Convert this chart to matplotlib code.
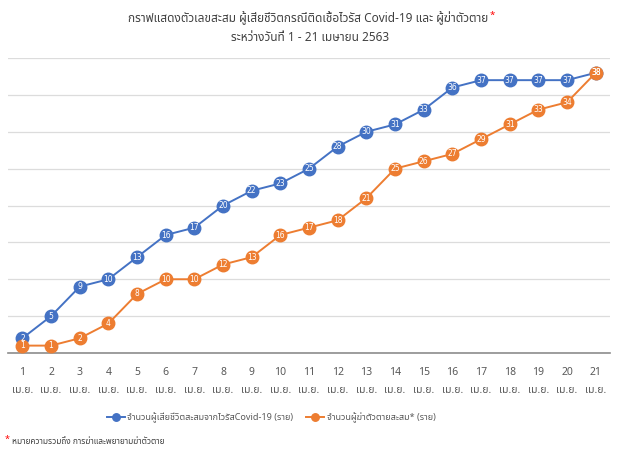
import matplotlib
matplotlib.use("Agg")
import matplotlib.pyplot as plt

plt.rcParams['font.family'] = ['Noto Sans Thai', 'DejaVu Sans']

# data (1 - 21 April 2563)
days = [str(d) for d in range(1, 22)]
month_label = "เม.ย."
covid_deaths = [2, 5, 9, 10, 13, 16, 17, 20, 22, 23, 25, 28, 30, 31, 33, 36, 37, 37, 37, 37, 38]
suicides = [1, 1, 2, 4, 8, 10, 10, 12, 13, 16, 17, 18, 21, 25, 26, 27, 29, 31, 33, 34, 38]

covid_label = "จำนวนผู้เสียชีวิตสะสมจากไวรัสCovid-19 (ราย)"
suicide_label = "จำนวนผู้ฆ่าตัวตายสะสม* (ราย)"
title_1 = "กราฟแสดงตัวเลขสะสม ผู้เสียชีวิตกรณีติดเชื้อไวรัส Covid-19 และ ผู้ฆ่าตัวตาย"
title_2 = "ระหว่างวันที่ 1 - 21 เมษายน 2563"
footnote = "หมายความรวมถึง การฆ่าและพยายามฆ่าตัวตาย"

BLUE = "#4472C4"
ORANGE = "#ED7D31"
TXT = "#595959"

fig = plt.figure(figsize=(6.2, 4.57), dpi=100)
ax = fig.add_axes([0.013, 0.2276, 0.971, 0.6454])

x = list(range(len(days)))
for vals, col, lab in [(covid_deaths, BLUE, covid_label), (suicides, ORANGE, suicide_label)]:
    ax.plot(x, vals, color=col, lw=1.4, marker='o', markersize=9,
            markeredgecolor=col, label=lab, zorder=3)
    for xi, v in zip(x, vals):
        ax.text(xi, v, str(v), color='white', fontsize=5.5, ha='center',
                va='center', zorder=4, family='DejaVu Sans')

ax.set_xlim(-0.5, len(days) - 0.5)
ax.set_ylim(0, 40)
ax.set_yticks(range(0, 41, 5))
ax.set_yticklabels([])
ax.grid(axis='y', color='#dcdcdc', lw=0.9)
ax.set_axisbelow(True)
for s in ['top', 'right', 'left']:
    ax.spines[s].set_visible(False)
ax.spines['bottom'].set_color('#8c8c8c')
ax.spines['bottom'].set_linewidth(1.2)
ax.tick_params(axis='y', length=0)
ax.tick_params(axis='x', length=0, pad=10, colors=TXT, labelsize=7.5)
ax.set_xticks(x)
ax.set_xticklabels([d + "\n" + month_label for d in days], linespacing=1.9)

# title
t1 = fig.text(0.497, 0.96, title_1, ha='center', va='center', fontsize=8.5,
              color='#404040', fontweight='bold')
fig.text(0.5, 0.917, title_2, ha='center', va='center', fontsize=8.5,
         color='#404040', fontweight='bold')
ax.annotate("*", xy=(1, 0.7), xycoords=t1, xytext=(1, 0), textcoords='offset points',
            ha='left', va='center', color='red', fontsize=7, fontweight='bold',
            annotation_clip=False)

fig.legend(loc='center', bbox_to_anchor=(271 / 620, 1 - 418 / 457), ncol=2,
           frameon=False, fontsize=6.5, handlelength=2.0, columnspacing=1.4,
           handletextpad=0.3, labelcolor=TXT, markerscale=0.6)

# footnote
fig.text(0.008, 1 - 439 / 457, "*", color='red', fontsize=6.5, va='center')
fig.text(0.02, 1 - 441 / 457, footnote, color='#404040', fontsize=6, va='center')

fig.savefig("out.png")
